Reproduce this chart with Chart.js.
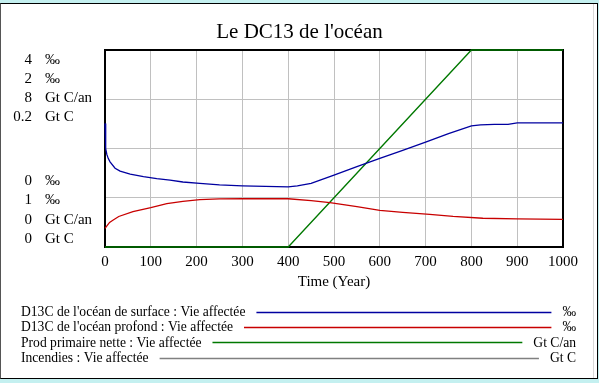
<!DOCTYPE html>
<html><head><meta charset="utf-8">
<script src="https://cdn.jsdelivr.net/npm/chart.js@4/dist/chart.umd.min.js"></script>
<style>html,body{margin:0;padding:0;background:#fff;overflow:hidden}canvas{display:block}</style>
</head><body>
<canvas id="c" width="599" height="383"></canvas>
<script>
// ---- data ----
const titleText = "Le DC13 de l'océan";
const xAxisTitle = 'Time (Year)';
const xTicks = [0, 100, 200, 300, 400, 500, 600, 700, 800, 900, 1000];
const seriesNames = [
  "D13C de l'océan de surface : Vie affectée",
  "D13C de l'océan profond : Vie affectée",
  "Prod primaire nette : Vie affectée",
  "Incendies : Vie affectée"
];
const seriesUnits = ['‰', '‰', 'Gt C/an', 'Gt C'];
const axisMin = [0, 1, 0, 0];
const axisMax = [4, 2, 8, 0.2];
const seriesColors = ['rgb(0,0,160)', 'rgb(200,0,0)', 'rgb(0,120,0)', 'rgb(128,128,128)'];

const surfaceTime   = [0, 1, 2, 4, 7, 11, 22, 33, 55, 84, 113, 142, 170, 207, 250, 300, 350, 400, 420, 450, 500, 550, 600, 650, 700, 750, 800, 820, 850, 880, 900, 1000];
const surfaceValues = [2.51, 2.2, 2.0, 1.88, 1.8, 1.73, 1.60, 1.54, 1.48, 1.43, 1.39, 1.36, 1.32, 1.29, 1.26, 1.24, 1.23, 1.22, 1.24, 1.29, 1.46, 1.63, 1.80, 1.96, 2.13, 2.30, 2.46, 2.48, 2.49, 2.49, 2.52, 2.52];

const deepTime   = [0, 5, 10, 18, 30, 61, 100, 135, 170, 207, 250, 300, 400, 450, 491, 550, 600, 650, 709, 760, 825, 900, 1000];
const deepValues = [1.095, 1.11, 1.125, 1.137, 1.155, 1.18, 1.20, 1.22, 1.232, 1.24, 1.244, 1.245, 1.245, 1.235, 1.225, 1.205, 1.186, 1.176, 1.166, 1.155, 1.146, 1.143, 1.14];

const nppTime   = [0, 400, 800, 1000];
const nppValues = [0, 0, 8, 8];

const fireTime   = [0, 1000];
const fireValues = [0, 0];

// ---- chart ----
const FONT = 'Liberation Serif';
const toXY = (t, v) => t.map((x, i) => ({ x: x, y: v[i] }));
const axisIds = ['y', 'y1', 'y2', 'y3'];
const seriesData = [toXY(surfaceTime, surfaceValues), toXY(deepTime, deepValues), toXY(nppTime, nppValues), toXY(fireTime, fireValues)];

const decorPlugin = {
  id: 'decor',
  beforeDraw(chart) {
    const c = chart.ctx, W = chart.width, H = chart.height;
    c.save();
    c.fillStyle = 'rgb(196,240,240)';
    c.fillRect(0, 0, W, H);
    c.fillStyle = '#fff';
    c.fillRect(0, 4, 598, 375);
    c.lineWidth = 1;
    c.strokeStyle = '#000';
    c.beginPath();
    c.moveTo(0, 3.5); c.lineTo(598, 3.5);
    c.moveTo(597.5, 3.5); c.lineTo(597.5, 378.5);
    c.moveTo(0, 378.5); c.lineTo(598, 378.5);
    c.stroke();
    c.strokeStyle = '#555';
    c.beginPath(); c.moveTo(0.5, 3.5); c.lineTo(0.5, 378.5); c.stroke();
    c.strokeStyle = '#d8d8d8';
    c.beginPath(); c.moveTo(593.5, 4); c.lineTo(593.5, 378); c.stroke();
    c.restore();
  },
  afterDatasetDraw(chart, args) {
    if (args.index !== 3) return;
    const a = chart.chartArea, c = chart.ctx;
    c.save();
    c.strokeStyle = '#000';
    c.lineWidth = 2;
    c.strokeRect(a.left, a.top, a.right - a.left, a.bottom - a.top);
    c.restore();
  },
  afterDraw(chart) {
    const c = chart.ctx, a = chart.chartArea;
    c.save();
    c.fillStyle = '#000';
    // title
    c.font = '21px "' + FONT + '"';
    c.textAlign = 'center';
    c.textBaseline = 'alphabetic';
    c.fillText(titleText, 299.5, 38);
    // left stacked axis labels
    c.textBaseline = 'middle';
    c.font = '15px "' + FONT + '"';
    const topOff = [10, 29, 48, 67];
    const botOff = [65.5, 46.5, 27, 8];
    axisIds.forEach((id, i) => {
      const s = chart.scales[id];
      const yt = a.top + topOff[i], yb = a.bottom - botOff[i];
      c.textAlign = 'right';
      c.fillText(String(s.max), 32, yt);
      c.fillText(String(s.min), 32, yb);
      c.textAlign = 'left';
      c.fillText(seriesUnits[i], 45, yt);
      c.fillText(seriesUnits[i], 45, yb);
    });
    // legend
    c.font = '13.6px "' + FONT + '"';
    c.textBaseline = 'alphabetic';
    seriesNames.forEach((name, i) => {
      const ly = 311.7 + i * 15.33;
      c.textAlign = 'left';
      c.fillStyle = '#000';
      c.fillText(name, 21, ly + 4.3);
      const tw = c.measureText(name).width;
      c.textAlign = 'right';
      c.fillText(seriesUnits[i], 576, ly + 4.3);
      const uw = c.measureText(seriesUnits[i]).width;
      c.strokeStyle = seriesColors[i];
      c.lineWidth = 1.3;
      c.beginPath();
      c.moveTo(21 + tw + 11, Math.round(ly) + 0.5);
      c.lineTo(576 - uw - 11, Math.round(ly) + 0.5);
      c.stroke();
    });
    c.restore();
  }
};

const datasets = seriesNames.map((name, i) => ({
  label: name,
  data: seriesData[i],
  yAxisID: axisIds[i],
  borderColor: seriesColors[i],
  backgroundColor: seriesColors[i],
  borderWidth: 1.3,
  pointRadius: 0,
  tension: 0,
  fill: false,
  clip: 4
}));

new Chart(document.getElementById('c').getContext('2d'), {
  type: 'line',
  data: { datasets: datasets },
  options: {
    responsive: false,
    animation: false,
    events: [],
    layout: { padding: { left: 105, right: 36, top: 50, bottom: 88 } },
    plugins: {
      legend: { display: false },
      tooltip: { enabled: false },
      title: { display: false }
    },
    scales: {
      x: {
        type: 'linear', min: xTicks[0], max: xTicks[xTicks.length - 1],
        afterBuildTicks(s) { s.ticks = xTicks.map(v => ({ value: v })); },
        ticks: { color: '#000', font: { family: FONT, size: 15 }, padding: 6, maxRotation: 0, autoSkip: false, callback: v => String(v) },
        grid: { color: '#c0c0c0', drawTicks: false },
        border: { display: false },
        title: { display: true, text: xAxisTitle, color: '#000', font: { family: FONT, size: 15 }, padding: { top: 0, bottom: 4 } },
        afterFit(s) { s.height = 48; }
      },
      y: {
        min: axisMin[0], max: axisMax[0],
        ticks: { display: false, stepSize: 1 },
        grid: { color: '#c0c0c0', drawTicks: false },
        border: { display: false },
        afterFit(s) { s.width = 0; }
      },
      y1: { display: false, min: axisMin[1], max: axisMax[1] },
      y2: { display: false, min: axisMin[2], max: axisMax[2] },
      y3: { display: false, min: axisMin[3], max: axisMax[3] }
    }
  },
  plugins: [decorPlugin]
});
</script>
</body></html>
